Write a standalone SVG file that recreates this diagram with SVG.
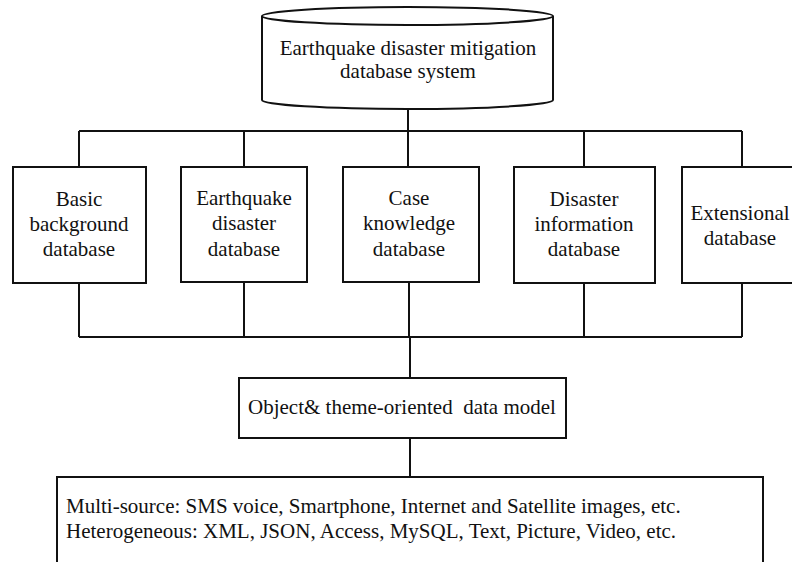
<svg xmlns="http://www.w3.org/2000/svg" width="792" height="562" viewBox="0 0 792 562">
<style>
.n{fill:#fff;stroke:#111;stroke-width:2}
.c{fill:none;stroke:#111;stroke-width:2}
text{font-family:"Liberation Serif","Times New Roman",serif;font-size:21px;fill:#111}
.m{text-anchor:middle}
.p{white-space:pre}
</style>
<rect width="792" height="562" fill="#fff"/>
<g id="connectors">
<path class="c" d="M408,109V131M79,131H742M79,131V167M244,131V167M408,131V167M584,131V167M742,131V167"/>
<path class="c" d="M79,283V337M244,282V337M409,282V337M584,283V337M742,283V337M79,337H742M410,337V378M410,438V477"/>
</g>
<g id="system">
<path class="n" d="M262,16V100A145.5,9 0 0 0 553,100V16"/>
<ellipse class="n" cx="407.5" cy="16" rx="145.5" ry="9"/>
<text class="m" x="408" y="55">Earthquake disaster mitigation</text>
<text class="m" x="408" y="78">database system</text>
</g>
<g id="basic">
<rect class="n" x="13" y="167" width="133" height="116"/>
<text class="m" x="79" y="206">Basic</text>
<text class="m" x="79" y="231">background</text>
<text class="m" x="79" y="256">database</text>
</g>
<g id="quake">
<rect class="n" x="181" y="167" width="126" height="115"/>
<text class="m" x="244" y="205">Earthquake</text>
<text class="m" x="244" y="230">disaster</text>
<text class="m" x="244" y="256">database</text>
</g>
<g id="case">
<rect class="n" x="343" y="167" width="136" height="115"/>
<text class="m" x="409" y="205">Case</text>
<text class="m" x="409" y="230">knowledge</text>
<text class="m" x="409" y="256">database</text>
</g>
<g id="info">
<rect class="n" x="514" y="167" width="141" height="116"/>
<text class="m" x="584" y="206">Disaster</text>
<text class="m" x="584" y="231">information</text>
<text class="m" x="584" y="256">database</text>
</g>
<g id="ext">
<rect class="n" x="682" y="167" width="130" height="116"/>
<text class="m" x="740" y="220">Extensional</text>
<text class="m" x="740" y="245">database</text>
</g>
<g id="model">
<rect class="n" x="239" y="378" width="327" height="60"/>
<text class="p" x="248" y="414">Object&amp; theme-oriented  data model</text>
</g>
<g id="sources">
<rect class="n" x="57" y="477" width="706" height="100"/>
<text x="66" y="513">Multi-source: SMS voice, Smartphone, Internet and Satellite images, etc.</text>
<text x="66" y="538">Heterogeneous: XML, JSON, Access, MySQL, Text, Picture, Video, etc.</text>
</g>
</svg>
